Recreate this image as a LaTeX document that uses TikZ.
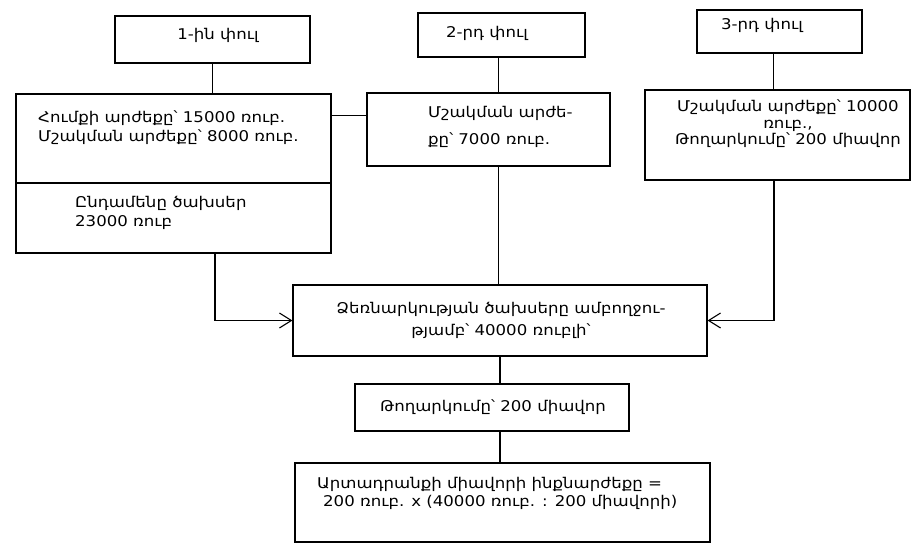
\documentclass[tikz,border=0pt]{standalone}
\usepackage{fontspec}
\setmainfont{DejaVu Sans}[FakeStretch=1.12]
\usetikzlibrary{arrows.meta}
\tikzset{
  box/.style={draw, line width=1.1pt, inner sep=0pt},
  txt/.style={inner sep=0pt, font=\fontsize{14.8}{19}\selectfont},
  conn/.style={line width=1.1pt},
  arr/.style={conn, -{Straight Barb[length=12pt,width=15pt,line width=1.1pt]}}
}
\begin{document}
\begin{tikzpicture}[x=1pt,y=-1pt]
\useasboundingbox (0,0) rectangle (919,544);
% boxes
\node[box, minimum width=195pt, minimum height=47pt] (b1) at (212.5,39.5) {};
\node[box, minimum width=167pt, minimum height=44pt] (b2) at (501.5,35) {};
\node[box, minimum width=165pt, minimum height=43pt] (b3) at (779.5,31.5) {};
\node[box, minimum width=315pt, minimum height=89pt] (A1) at (173.5,138.5) {};
\node[box, minimum width=315pt, minimum height=70pt] (A2) at (173.5,218) {};
\node[box, minimum width=243pt, minimum height=73pt] (B) at (488.5,129.5) {};
\node[box, minimum width=265pt, minimum height=90pt] (C) at (777.5,135) {};
\node[box, minimum width=414pt, minimum height=71pt] (D) at (500,320.5) {};
\node[box, minimum width=274pt, minimum height=47pt] (E) at (492,407.5) {};
\node[box, minimum width=415pt, minimum height=79pt] (F) at (502.5,502.5) {};
% texts
\node[txt] (t1) at (218,35) {1-ին փուլ};
\node[txt] (t2) at (487,33) {2-րդ փուլ};
\node[txt] (t3) at (762,25) {3-րդ փուլ};
\node[txt, anchor=west, align=left] (tA1) at (38,128) {Հումքի արժեքը՝ 15000 ռուբ.\\Մշակման արժեքը՝ 8000 ռուբ.};
\node[txt, anchor=west, align=left] (tA2) at (75,212.5) {Ընդամենը ծախսեր\\23000 ռուբ};
\node[txt, anchor=west, align=left, font=\fontsize{14.8}{27}\selectfont] (tB) at (428,126.5) {Մշակման արժե-\\քը՝ 7000 ռուբ.};
\node[txt, align=center, font=\fontsize{14.8}{16.5}\selectfont] (tC) at (788,124) {Մշակման արժեքը՝ 10000\\ռուբ.,\\Թողարկումը՝ 200 միավոր};
\node[txt, align=center, font=\fontsize{14.8}{22}\selectfont] (tD) at (501,320) {Ձեռնարկության ծախսերը ամբողջու-\\թյամբ՝ 40000 ռուբլի՝};
\node[txt] (tE) at (493,407) {Թողարկումը՝ 200 միավոր};
\node[txt, anchor=west, align=left, font=\fontsize{14.8}{17.5}\selectfont] (tF) at (317,493.5) {Արտադրանքի միավորի ինքնարժեքը =\\\hspace*{6pt}200 ռուբ. x (40000 ռուբ. : 200 միավորի)};
% connectors
\draw[conn] (b1.south) -- (b1.south |- A1.north);
\draw[conn] ([xshift=-3pt]b2.south) -- ([xshift=-3pt]b2.south |- B.north);
\draw[conn] ([xshift=-6pt]b3.south) -- ([xshift=-6pt]b3.south |- C.north);
\draw[conn] ([yshift=14pt]B.west) -- ([yshift=14pt]B.west -| A1.east);
\draw[arr] ([xshift=41.5pt]A2.south) |- (D.west);
\draw[conn] ([xshift=-3pt]b2.south |- B.south) -- ([xshift=-3pt]b2.south |- D.north);
\draw[arr] ([xshift=-3.5pt]C.south) |- (D.east);
\draw[conn] (D.south) -- (D.south |- E.north);
\draw[conn] (D.south |- E.south) -- (D.south |- F.north);
\end{tikzpicture}
\end{document}
